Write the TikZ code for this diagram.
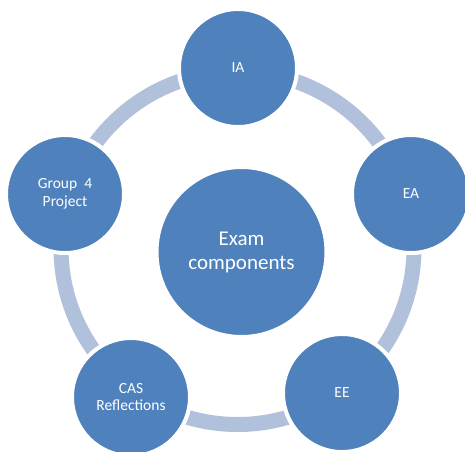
\documentclass[tikz,border=0pt]{standalone}
\usepackage{fontspec}
\setmainfont{Carlito}
\definecolor{circblue}{RGB}{79,129,189}
\definecolor{ringblue}{RGB}{177,193,220}
\begin{document}
\begin{tikzpicture}[x=1pt,y=-1pt,
  small/.style={circle,fill=circblue,draw=white,line width=4pt,minimum size=118pt,inner sep=0pt,
    text=white,align=center,font=\fontsize{15.5pt}{17.7pt}\selectfont},
  big/.style={circle,fill=circblue,draw=white,line width=4pt,minimum size=170pt,inner sep=0pt,
    text=white,align=center,font=\fontsize{21pt}{24pt}\selectfont},
  ring/.style={draw=ringblue,line width=15pt}]
\useasboundingbox (0,0) rectangle (465,451);
\clip (0,0) rectangle (465,451);
\coordinate (rc) at (237.5,248);
\draw[ring] (rc) circle[radius=176.5];
\node[big] (center) at (241.5,252) {Exam\\components};
\node[small] (ia) at (238,68) {IA};
\node[small] (ea) at (411,194) {EA};
\node[small] (ee) at (342,393) {EE};
\node[small] (cas) at (131,397) {CAS\\Reflections};
\node[small] (g4) at (65,194) {Group\ \ 4\\Project};
\end{tikzpicture}
\end{document}
